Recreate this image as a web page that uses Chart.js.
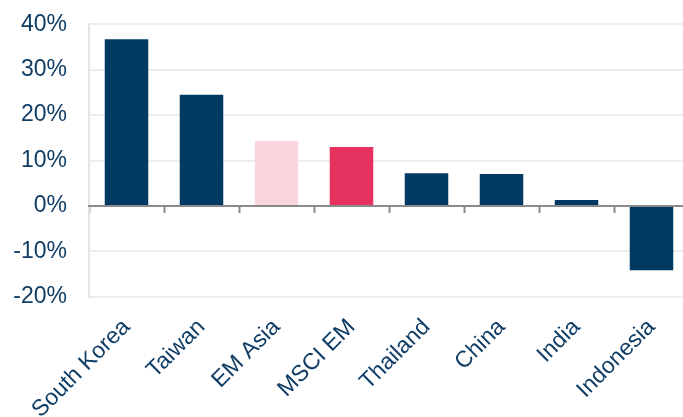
<!DOCTYPE html>
<html>
<head>
<meta charset="utf-8">
<script src="https://cdn.jsdelivr.net/npm/chart.js@4/dist/chart.umd.min.js"></script>
<style>
  html, body { margin: 0; padding: 0; background: #ffffff; overflow: hidden; }
  #wrap { width: 690px; height: 417px; }
</style>
</head>
<body>
<div id="wrap"><canvas id="c" width="690" height="417" style="width:690px;height:417px"></canvas></div>
<script>
const categories = ["South Korea", "Taiwan", "EM Asia", "MSCI EM", "Thailand", "China", "India", "Indonesia"];
const returnsPct = [36.7, 24.5, 14.3, 13.0, 7.2, 7.0, 1.3, -14.2];
const yTicks = [-20, -10, 0, 10, 20, 30, 40];

const NAVY = "#003a63";
const barColors = [NAVY, NAVY, "#f9d5de", "#e6325f", NAVY, NAVY, NAVY, NAVY];
const TEXT = "#0f3d66";
const FONT = "'Liberation Sans', Arial, sans-serif";

new Chart(document.getElementById("c"), {
  type: "bar",
  data: {
    labels: categories,
    datasets: [{
      data: returnsPct,
      backgroundColor: barColors,
      borderWidth: 0,
      barPercentage: 0.58,
      categoryPercentage: 1.0,
      xAxisID: "x",
      yAxisID: "y"
    }]
  },
  options: {
    responsive: false,
    animation: false,
    devicePixelRatio: 1,
    layout: { padding: { top: 24.3, right: 1, left: 0, bottom: 0 } },
    plugins: { legend: { display: false }, tooltip: { enabled: false } },
    scales: {
      y: {
        min: -20, max: 40,
        afterBuildTicks: (axis) => { axis.ticks = yTicks.map(v => ({ value: v })); },
        afterFit: (axis) => { axis.width = 89; axis.paddingTop = 0; axis.paddingBottom = 0; },
        border: { display: true, color: "#e4e4e4", width: 2 },
        grid: { color: "#ededed", lineWidth: 2, drawTicks: false },
        ticks: {
          padding: 22,
          color: TEXT,
          font: { family: FONT, size: 23 },
          callback: (v) => v + "%"
        }
      },
      x: {
        position: "bottom",
        offset: true,
        afterFit: (axis) => { axis.height = 120.3; },
        border: { display: false },
        grid: { display: false, drawTicks: false },
        ticks: {
          color: TEXT,
          font: { family: FONT, size: 23 },
          minRotation: 45,
          maxRotation: 45,
          autoSkip: false,
          padding: 17
        }
      },
      x0: {
        type: "category",
        labels: categories,
        position: { y: 0 },
        offset: true,
        afterFit: (axis) => { axis.height = 0; },
        border: { display: true, color: "#8a8a8a", width: 2 },
        grid: { display: true, drawOnChartArea: false, drawTicks: true, tickLength: 6, tickWidth: 2, tickColor: "#8a8a8a", offset: true },
        ticks: { display: false }
      }
    }
  }
});
</script>
</body>
</html>
